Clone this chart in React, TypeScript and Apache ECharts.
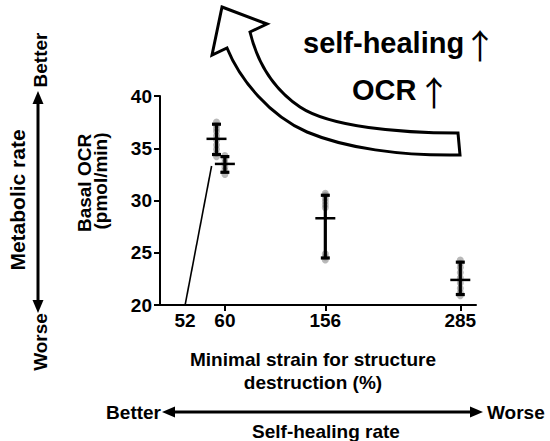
import React, { useEffect, useRef } from "react";
import * as echarts from "echarts";

// ---- data ----
const STRAIN = [52, 60, 156, 285]; // minimal strain for structure destruction (%)
const OCR_MEAN = [35.9, 33.5, 28.3, 22.4];
const OCR_LOW = [34.4, 32.7, 24.5, 21.0];
const OCR_HIGH = [37.3, 34.2, 30.5, 24.1];
const OCR_POINTS_52 = [37.5, 37.2, 36.9, 36.6, 36.2, 35.8, 35.3, 34.9, 34.5, 34.2];
const OCR_POINTS_60 = [34.3, 34.0, 33.6, 33.2, 32.9, 32.5];
const OCR_POINTS_156 = [30.7, 30.5, 30.2, 29.9, 29.6, 29.3, 24.9, 24.6, 24.3];
const OCR_POINTS_285 = [24.3, 24.0, 23.6, 23.1, 22.6, 22.1, 21.6, 21.2, 20.9];
const Y_TICKS = [20, 25, 30, 35, 40];
const X_TICKS = [60, 156, 285];
// the "52" label is displaced to the left and joined to its point by a leader line
const LABEL_52_AT = 22;
const LEADER_END = [47.3, 33.3];

const FONT = "'Liberation Sans', Arial, Helvetica, sans-serif";
const ARROW_FONT = "'Noto Sans CJK SC', 'DejaVu Sans', sans-serif";

const ARROW_D =
  "M222 7 L267 24 L250 32 C258 65 275 90 300 107 C330 127 400 133 458 133 L460 155 C400 156 345 148 307 132 C270 116 240 80 227 48 L212 55 Z";
echarts.graphic.registerShape("bigArrow", echarts.graphic.extendPath(ARROW_D, {}));

function text(t: string, x: number, y: number, opts: any = {}) {
  return {
    type: "text",
    x,
    y,
    rotation: opts.rotation || 0,
    style: {
      text: t,
      fill: "#000",
      fontFamily: opts.family || FONT,
      fontWeight: opts.weight || "bold",
      fontSize: opts.size || 19,
      align: opts.align || "center",
      verticalAlign: "middle",
    },
  };
}

export default function App() {
  const ref = useRef<HTMLDivElement>(null);
  useEffect(() => {
    if (!ref.current) return;
    const chart = echarts.init(ref.current, null, { renderer: "svg" });
    const pointSets = [OCR_POINTS_52, OCR_POINTS_60, OCR_POINTS_156, OCR_POINTS_285];
    const dots: number[][] = [];
    pointSets.forEach((arr, i) => arr.forEach((v) => dots.push([STRAIN[i], v])));
    const bars = STRAIN.map((s, i) => [s, OCR_MEAN[i], OCR_LOW[i], OCR_HIGH[i]]);
    const axisText = { color: "#000", fontFamily: FONT, fontWeight: "bold", fontSize: 19 };

    chart.setOption({
      animation: false,
      grid: { left: 160, right: 74, top: 96, bottom: 136 },
      xAxis: {
        type: "value",
        min: -2,
        max: 300,
        axisLine: { onZero: false, lineStyle: { color: "#000", width: 2 } },
        axisTick: { show: true, customValues: X_TICKS, length: 6, lineStyle: { color: "#000", width: 2 } },
        axisLabel: {
          ...axisText,
          margin: 6,
          customValues: [LABEL_52_AT, ...X_TICKS],
          formatter: (v: number) => (v === LABEL_52_AT ? String(STRAIN[0]) : String(v)),
        },
        splitLine: { show: false },
      },
      yAxis: {
        type: "value",
        min: Y_TICKS[0],
        max: Y_TICKS[Y_TICKS.length - 1],
        interval: 5,
        axisLine: { show: true, onZero: false, lineStyle: { color: "#000", width: 2 } },
        axisTick: { show: true, length: 6, lineStyle: { color: "#000", width: 2 } },
        axisLabel: { ...axisText, margin: 8 },
        splitLine: { show: false },
      },
      series: [
        {
          type: "line",
          data: [[LABEL_52_AT, Y_TICKS[0]], LEADER_END],
          symbol: "none",
          silent: true,
          lineStyle: { color: "#000", width: 1.6 },
          z: 1,
        },
        {
          type: "scatter",
          data: dots,
          symbol: "circle",
          symbolSize: 7,
          itemStyle: { color: "rgba(130,130,130,0.7)" },
          z: 2,
        },
        {
          type: "custom",
          data: bars,
          encode: { x: 0, y: 1 },
          z: 3,
          renderItem: (params: any, api: any) => {
            const x = api.value(0);
            const pm = api.coord([x, api.value(1)]);
            const pl = api.coord([x, api.value(2)]);
            const ph = api.coord([x, api.value(3)]);
            const st = { stroke: "#000", lineWidth: 3.2 };
            const cap = 4.5;
            const half = 10;
            return {
              type: "group",
              children: [
                { type: "line", shape: { x1: pl[0], y1: pl[1], x2: ph[0], y2: ph[1] }, style: st },
                { type: "line", shape: { x1: ph[0] - cap, y1: ph[1], x2: ph[0] + cap, y2: ph[1] }, style: st },
                { type: "line", shape: { x1: pl[0] - cap, y1: pl[1], x2: pl[0] + cap, y2: pl[1] }, style: st },
                { type: "line", shape: { x1: pm[0] - half, y1: pm[1], x2: pm[0] + half, y2: pm[1] }, style: { stroke: "#000", lineWidth: 2.5 } },
              ],
            };
          },
        },
      ],
      graphic: [
        { type: "bigArrow", x: 0, y: 0, style: { fill: "#fff", stroke: "#000", lineWidth: 3 }, z: 10 },
        text("self-healing", 303, 43, { size: 29, align: "left" }),
        text("↑", 480, 44, { size: 34, weight: "normal", family: ARROW_FONT }),
        text("OCR", 352, 90, { size: 29, align: "left" }),
        text("↑", 434, 91, { size: 34, weight: "normal", family: ARROW_FONT }),
        text("Basal OCR", 84, 183, { rotation: Math.PI / 2 }),
        text("(pmol/min)", 100, 181, { rotation: Math.PI / 2 }),
        text("Metabolic rate", 17, 200, { rotation: Math.PI / 2, size: 21 }),
        text("Better", 40, 60, { rotation: Math.PI / 2 }),
        text("Worse", 40, 342, { rotation: Math.PI / 2 }),
        { type: "line", shape: { x1: 38, y1: 100, x2: 38, y2: 304 }, style: { stroke: "#000", lineWidth: 3 } },
        { type: "polygon", shape: { points: [[38, 91], [32.5, 104], [43.5, 104]] }, style: { fill: "#000" } },
        { type: "polygon", shape: { points: [[38, 313], [32.5, 300], [43.5, 300]] }, style: { fill: "#000" } },
        text("Minimal strain for structure", 313, 359),
        text("destruction (%)", 313, 382),
        text("Better", 161, 412, { align: "right" }),
        text("Worse", 487, 412, { align: "left" }),
        text("Self-healing rate", 326, 431),
        { type: "line", shape: { x1: 172, y1: 412, x2: 472, y2: 412 }, style: { stroke: "#000", lineWidth: 3 } },
        { type: "polygon", shape: { points: [[162, 412], [175, 406.5], [175, 417.5]] }, style: { fill: "#000" } },
        { type: "polygon", shape: { points: [[483, 412], [470, 406.5], [470, 417.5]] }, style: { fill: "#000" } },
      ],
    });
    return () => chart.dispose();
  }, []);
  return (
    <div
      ref={ref}
      style={{ position: "fixed", left: 0, top: 0, width: 550, height: 441, background: "#fff" }}
    />
  );
}
